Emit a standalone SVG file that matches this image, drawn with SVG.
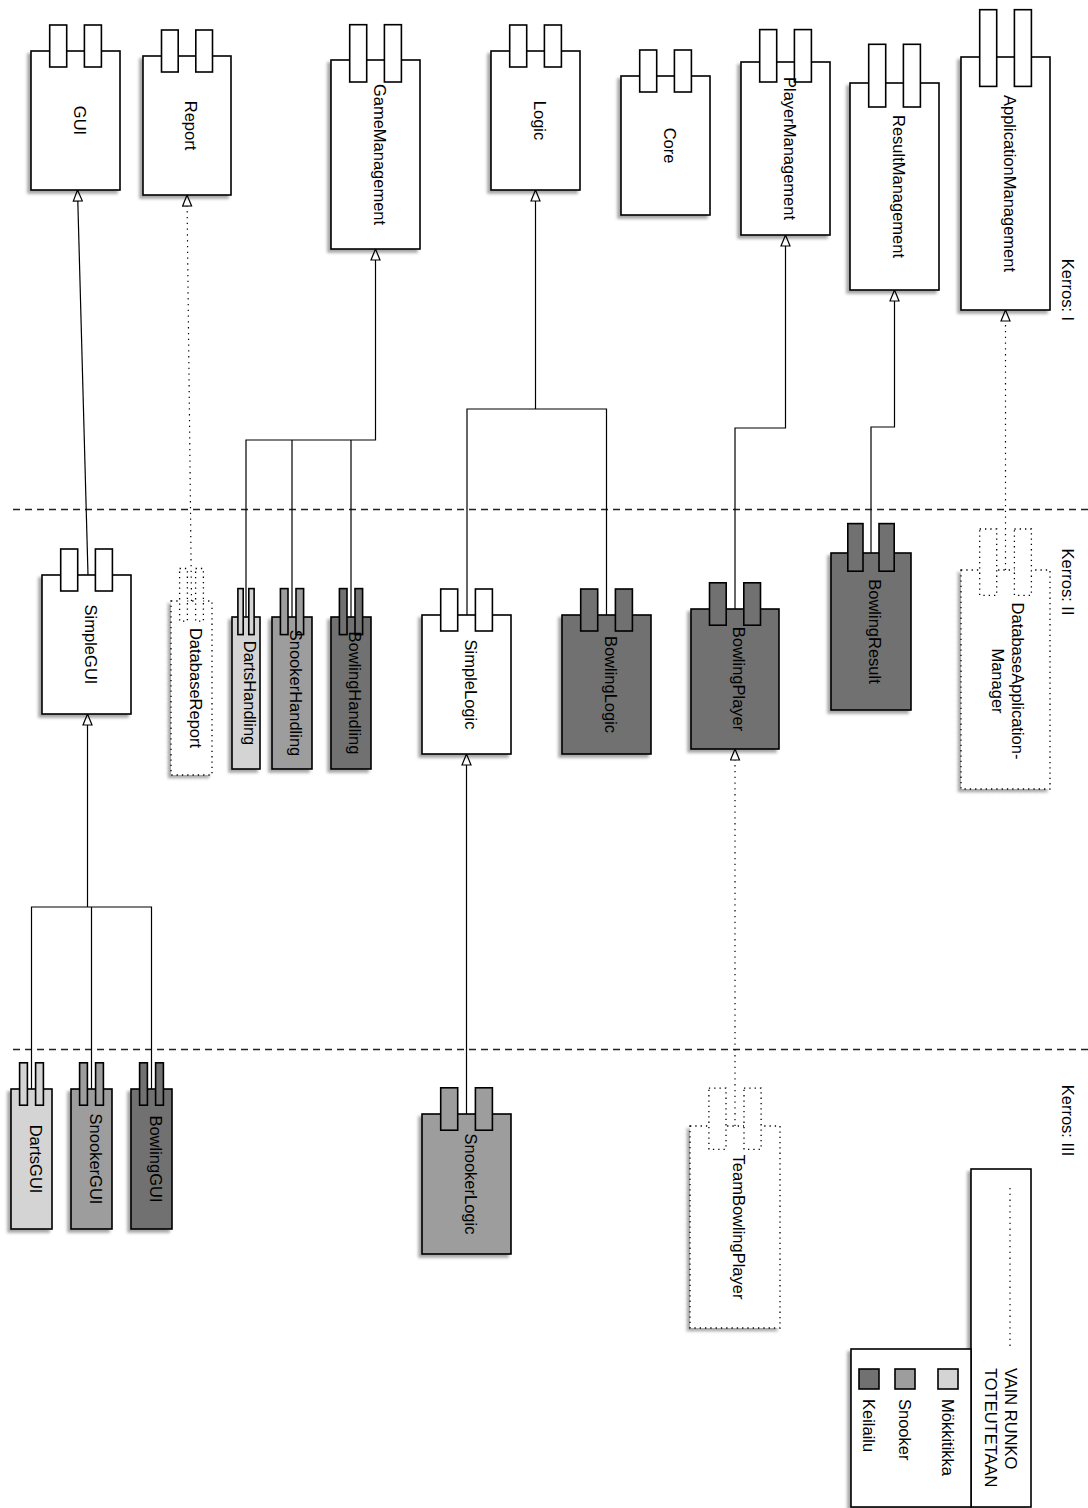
<svg xmlns="http://www.w3.org/2000/svg" width="1088" height="1508" viewBox="0 0 1088 1508">
<defs>
<style>
.box{stroke:#000;stroke-width:1.6}
.w{fill:#fff}.l{fill:#d4d4d4}.m{fill:#9d9d9d}.d{fill:#717171}
.dot{stroke-width:1.3;stroke-dasharray:1.3 4}
.t{font-family:"Liberation Sans",Arial,sans-serif;font-size:16.5px;fill:#000}
.c{fill:none;stroke:#000;stroke-width:1.2}
.cd{stroke-dasharray:1.3 4.5}
.sep{fill:none;stroke:#222;stroke-width:1.3;stroke-dasharray:7 5}
</style>
<filter id="sh" x="-20%" y="-10%" width="140%" height="125%">
<feGaussianBlur in="SourceAlpha" stdDeviation="1.4"/>
<feOffset dx="-3" dy="3" result="b"/>
<feFlood flood-color="#000" flood-opacity="0.35"/>
<feComposite in2="b" operator="in"/>
<feMerge><feMergeNode/><feMergeNode in="SourceGraphic"/></feMerge>
</filter>
<marker id="tri" viewBox="-1 -1 13 11" refX="11" refY="4.5" markerWidth="13" markerHeight="11" markerUnits="userSpaceOnUse" orient="auto">
<path d="M0,0 L11,4.5 L0,9 Z" fill="#fff" stroke="#000" stroke-width="1.2"/>
</marker>
</defs>
<rect width="1088" height="1508" fill="#fff"/>

<g id="separators">
<path class="sep" d="M13,509.5 H1088"/>
<path class="sep" d="M13,1049.5 H1088"/>
</g>

<g id="connectors">
<path class="c" d="M88,575 L77.5,190" marker-end="url(#tri)"/>
<path class="c cd" d="M191.5,601 L187,195" marker-end="url(#tri)"/>
<path class="c" d="M246,617 V440 H375.5 V249" marker-end="url(#tri)"/>
<path class="c" d="M292,617 V440 M351,617 V440"/>
<path class="c" d="M467,615 V409 H606.5 V615"/>
<path class="c" d="M535.5,409 V190" marker-end="url(#tri)"/>
<path class="c" d="M735,609 V428 H785.5 V235" marker-end="url(#tri)"/>
<path class="c" d="M871,553 V427 H894.5 V290" marker-end="url(#tri)"/>
<path class="c cd" d="M1005.5,570 V310" marker-end="url(#tri)"/>
<path class="c" d="M466.5,1114 V754" marker-end="url(#tri)"/>
<path class="c cd" d="M735,1126 V749" marker-end="url(#tri)"/>
<path class="c" d="M31.5,1089 V907 H151.5 V1089 M91.5,1089 V907"/>
<path class="c" d="M87.5,907 V714" marker-end="url(#tri)"/>
</g>

<g id="GUI">
<rect class="box w" x="31" y="51" width="89" height="139" filter="url(#sh)"/>
<rect class="box w" x="49.7" y="25" width="17" height="42"/><rect class="box w" x="84.4" y="25" width="17" height="42"/>
<text class="t" transform="translate(75.5,120.5) rotate(90)" y="2" text-anchor="middle">GUI</text>
</g>
<g id="Report">
<rect class="box w" x="143" y="56" width="88" height="139" filter="url(#sh)"/>
<rect class="box w" x="161.5" y="30" width="16.7" height="42"/><rect class="box w" x="195.8" y="30" width="16.7" height="42"/>
<text class="t" transform="translate(187,125.5) rotate(90)" y="2" text-anchor="middle">Report</text>
</g>
<g id="GameManagement">
<rect class="box w" x="331" y="60" width="89" height="189" filter="url(#sh)"/>
<rect class="box w" x="349.7" y="24.7" width="17" height="57.3"/><rect class="box w" x="384.4" y="24.7" width="17" height="57.3"/>
<text class="t" transform="translate(375.5,154.5) rotate(90)" y="2" text-anchor="middle">GameManagement</text>
</g>
<g id="Logic">
<rect class="box w" x="491" y="51" width="89" height="139" filter="url(#sh)"/>
<rect class="box w" x="509.7" y="25" width="17" height="42"/><rect class="box w" x="544.4" y="25" width="17" height="42"/>
<text class="t" transform="translate(535.5,120.5) rotate(90)" y="2" text-anchor="middle">Logic</text>
</g>
<g id="Core">
<rect class="box w" x="621" y="76" width="89" height="139" filter="url(#sh)"/>
<rect class="box w" x="639.7" y="50" width="17" height="42"/><rect class="box w" x="674.4" y="50" width="17" height="42"/>
<text class="t" transform="translate(665.5,145.5) rotate(90)" y="2" text-anchor="middle">Core</text>
</g>
<g id="PlayerManagement">
<rect class="box w" x="741" y="62" width="89" height="173" filter="url(#sh)"/>
<rect class="box w" x="759.7" y="29.6" width="17" height="52.4"/><rect class="box w" x="794.4" y="29.6" width="17" height="52.4"/>
<text class="t" transform="translate(785.5,148.5) rotate(90)" y="2" text-anchor="middle">PlayerManagement</text>
</g>
<g id="ResultManagement">
<rect class="box w" x="850" y="83" width="89" height="207" filter="url(#sh)"/>
<rect class="box w" x="868.7" y="44.3" width="17" height="62.7"/><rect class="box w" x="903.4" y="44.3" width="17" height="62.7"/>
<text class="t" transform="translate(894.5,186.5) rotate(90)" y="2" text-anchor="middle">ResultManagement</text>
</g>
<g id="ApplicationManagement">
<rect class="box w" x="961" y="57" width="89" height="253" filter="url(#sh)"/>
<rect class="box w" x="979.7" y="9.7" width="17" height="76.7"/><rect class="box w" x="1014.4" y="9.7" width="17" height="76.7"/>
<text class="t" transform="translate(1005.5,183.5) rotate(90)" y="2" text-anchor="middle">ApplicationManagement</text>
</g>

<g id="SimpleGUI">
<rect class="box w" x="42" y="575" width="89" height="139" filter="url(#sh)"/>
<rect class="box w" x="60.7" y="549" width="17" height="42"/><rect class="box w" x="95.4" y="549" width="17" height="42"/>
<text class="t" transform="translate(86.5,644.5) rotate(90)" y="2" text-anchor="middle">SimpleGUI</text>
</g>
<g id="DatabaseReport">
<rect class="box w dot" x="171" y="601" width="41" height="174" filter="url(#sh)"/>
<rect class="box w dot" x="179.6" y="568.5" width="7.8" height="52.7"/><rect class="box w dot" x="195.6" y="568.5" width="7.8" height="52.7"/>
<text class="t" transform="translate(191.5,688) rotate(90)" y="2" text-anchor="middle">DatabaseReport</text>
</g>
<g id="DartsHandling">
<rect class="box l" x="232" y="617" width="28" height="152" filter="url(#sh)"/>
<rect class="box l" x="237.9" y="588.6" width="5.3" height="46"/><rect class="box l" x="248.8" y="588.6" width="5.3" height="46"/>
<text class="t" transform="translate(246,693) rotate(90)" y="2" text-anchor="middle">DartsHandling</text>
</g>
<g id="SnookerHandling">
<rect class="box m" x="272" y="617" width="40" height="152" filter="url(#sh)"/>
<rect class="box m" x="280.4" y="588.6" width="7.6" height="46"/><rect class="box m" x="296" y="588.6" width="7.6" height="46"/>
<text class="t" transform="translate(292,693) rotate(90)" y="2" text-anchor="middle">SnookerHandling</text>
</g>
<g id="BowlingHandling">
<rect class="box d" x="331" y="617" width="40" height="152" filter="url(#sh)"/>
<rect class="box d" x="339.4" y="588.6" width="7.6" height="46"/><rect class="box d" x="355" y="588.6" width="7.6" height="46"/>
<text class="t" transform="translate(351,693) rotate(90)" y="2" text-anchor="middle">BowlingHandling</text>
</g>
<g id="SimpleLogic">
<rect class="box w" x="422" y="615" width="89" height="139" filter="url(#sh)"/>
<rect class="box w" x="440.7" y="589" width="17" height="42"/><rect class="box w" x="475.4" y="589" width="17" height="42"/>
<text class="t" transform="translate(466.5,684.5) rotate(90)" y="2" text-anchor="middle">SimpleLogic</text>
</g>
<g id="BowlingLogic">
<rect class="box d" x="562" y="615" width="89" height="139" filter="url(#sh)"/>
<rect class="box d" x="580.7" y="589" width="17" height="42"/><rect class="box d" x="615.4" y="589" width="17" height="42"/>
<text class="t" transform="translate(606.5,684.5) rotate(90)" y="2" text-anchor="middle">BowlingLogic</text>
</g>
<g id="BowlingPlayer">
<rect class="box d" x="691" y="609" width="88" height="140" filter="url(#sh)"/>
<rect class="box d" x="709.5" y="582.8" width="16.7" height="42.4"/><rect class="box d" x="743.8" y="582.8" width="16.7" height="42.4"/>
<text class="t" transform="translate(735,679) rotate(90)" y="2" text-anchor="middle">BowlingPlayer</text>
</g>
<g id="BowlingResult">
<rect class="box d" x="831" y="553" width="80" height="157" filter="url(#sh)"/>
<rect class="box d" x="847.8" y="523.6" width="15.2" height="47.6"/><rect class="box d" x="879" y="523.6" width="15.2" height="47.6"/>
<text class="t" transform="translate(871,631.5) rotate(90)" y="2" text-anchor="middle">BowlingResult</text>
</g>
<g id="DatabaseApplicationManager">
<rect class="box w dot" x="961" y="570" width="89" height="219" filter="url(#sh)"/>
<rect class="box w dot" x="979.7" y="529" width="17" height="66.4"/><rect class="box w dot" x="1014.4" y="529" width="17" height="66.4"/>
<text class="t" transform="translate(1005.5,681) rotate(90)" text-anchor="middle"><tspan x="0" y="-6.5">DatabaseApplication-</tspan><tspan x="0" y="13.5">Manager</tspan></text>
</g>

<g id="DartsGUI">
<rect class="box l" x="11" y="1089" width="41" height="140" filter="url(#sh)"/>
<rect class="box l" x="19.6" y="1062.8" width="7.8" height="42.4"/><rect class="box l" x="35.6" y="1062.8" width="7.8" height="42.4"/>
<text class="t" transform="translate(31.5,1159) rotate(90)" y="2" text-anchor="middle">DartsGUI</text>
</g>
<g id="SnookerGUI">
<rect class="box m" x="71" y="1089" width="41" height="140" filter="url(#sh)"/>
<rect class="box m" x="79.6" y="1062.8" width="7.8" height="42.4"/><rect class="box m" x="95.6" y="1062.8" width="7.8" height="42.4"/>
<text class="t" transform="translate(91.5,1159) rotate(90)" y="2" text-anchor="middle">SnookerGUI</text>
</g>
<g id="BowlingGUI">
<rect class="box d" x="131" y="1089" width="41" height="140" filter="url(#sh)"/>
<rect class="box d" x="139.6" y="1062.8" width="7.8" height="42.4"/><rect class="box d" x="155.6" y="1062.8" width="7.8" height="42.4"/>
<text class="t" transform="translate(151.5,1159) rotate(90)" y="2" text-anchor="middle">BowlingGUI</text>
</g>
<g id="SnookerLogic">
<rect class="box m" x="422" y="1114" width="89" height="140" filter="url(#sh)"/>
<rect class="box m" x="440.7" y="1087.8" width="17" height="42.4"/><rect class="box m" x="475.4" y="1087.8" width="17" height="42.4"/>
<text class="t" transform="translate(466.5,1184) rotate(90)" y="2" text-anchor="middle">SnookerLogic</text>
</g>
<g id="TeamBowlingPlayer">
<rect class="box w dot" x="690" y="1126" width="90" height="202" filter="url(#sh)"/>
<rect class="box w dot" x="708.9" y="1088.2" width="17.1" height="61.2"/><rect class="box w dot" x="744" y="1088.2" width="17.1" height="61.2"/>
<text class="t" transform="translate(735,1227) rotate(90)" y="2" text-anchor="middle">TeamBowlingPlayer</text>
</g>

<g id="layers">
<text class="t" transform="translate(1062,290) rotate(90)" text-anchor="middle">Kerros: I</text>
<text class="t" transform="translate(1062,582) rotate(90)" text-anchor="middle">Kerros: II</text>
<text class="t" transform="translate(1062,1120.5) rotate(90)" text-anchor="middle">Kerros: III</text>
</g>

<g id="legend">
<rect class="box w" x="971" y="1169" width="60" height="338" filter="url(#sh)"/>
<rect class="box w" x="851" y="1349" width="120" height="158" filter="url(#sh)"/>
<path class="c cd" d="M1010,1188 V1347"/>
<text class="t" transform="translate(1005,1368) rotate(90)">VAIN RUNKO</text>
<text class="t" transform="translate(985,1368) rotate(90)">TOTEUTETAAN</text>
<rect class="box l" x="938" y="1369" width="20" height="20"/>
<rect class="box m" x="895" y="1369" width="20" height="20"/>
<rect class="box d" x="859" y="1369" width="20" height="20"/>
<text class="t" transform="translate(942,1399) rotate(90)">Mökkitikka</text>
<text class="t" transform="translate(899,1399) rotate(90)">Snooker</text>
<text class="t" transform="translate(863,1399) rotate(90)">Keilailu</text>
</g>
</svg>
